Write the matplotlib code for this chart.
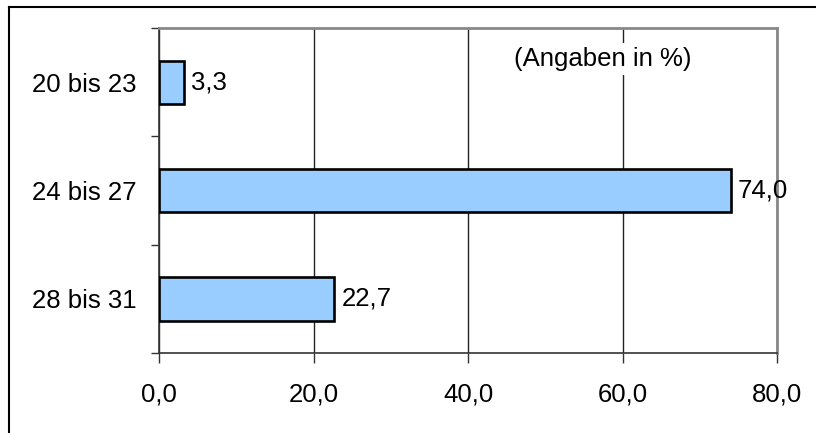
import numpy as np
import matplotlib.pyplot as plt
from matplotlib.lines import Line2D

plt.rcParams['font.family'] = ['Liberation Sans', 'DejaVu Sans']

categories = ['20 bis 23', '24 bis 27', '28 bis 31']
values = [3.3, 74.0, 22.7]
xticks = [0, 20, 40, 60, 80]

fs = 18.5

fig = plt.figure(figsize=(8.16, 4.33), dpi=100)
ax = fig.add_axes([159 / 816, 1 - 353 / 433, (777 - 159) / 816, (353 - 28) / 433])

ypos = np.arange(len(categories))
ax.barh(ypos, values, height=0.4, color='#99ccff', edgecolor='black',
        linewidth=1.9, zorder=3)
for y, v in zip(ypos, values):
    ax.text(v + 0.9, y, f'{v:.1f}'.replace('.', ','), va='center', ha='left',
            fontsize=fs)

ax.set_xlim(0, 80)
ax.set_ylim(len(categories) - 0.5, -0.5)
ax.set_xticks(xticks)
ax.set_xticklabels([f'{t:.1f}'.replace('.', ',') for t in xticks], fontsize=fs)
ax.set_yticks(ypos)
ax.set_yticklabels(categories, fontsize=fs)
ax.tick_params(axis='y', length=0, pad=16)
ax.set_yticks(np.arange(-0.5, len(categories)), minor=True)
ax.tick_params(axis='y', which='minor', length=6, width=1, color='#333333')
ax.tick_params(axis='x', length=7, width=1, color='#333333', pad=14)

ax.xaxis.grid(True, color='#222222', linewidth=1)
ax.set_axisbelow(True)
for s in ['top', 'right']:
    ax.spines[s].set_color('#888888')
    ax.spines[s].set_linewidth(2)
for s in ['left', 'bottom']:
    ax.spines[s].set_color('#333333')
    ax.spines[s].set_linewidth(1.2)

ax.text(0.718, 0.905, '(Angaben in %)', transform=ax.transAxes, ha='center',
        va='center', fontsize=fs, zorder=4,
        bbox=dict(facecolor='white', edgecolor='none', pad=3))

# outer chart border (only top and left visible)
fig.add_artist(Line2D([8.5 / 816, 1], [1 - 6.5 / 433] * 2, color='black', lw=1.5))
fig.add_artist(Line2D([8.5 / 816] * 2, [0, 1 - 6.5 / 433], color='black', lw=1.5))

fig.savefig('out.png', dpi=100)
